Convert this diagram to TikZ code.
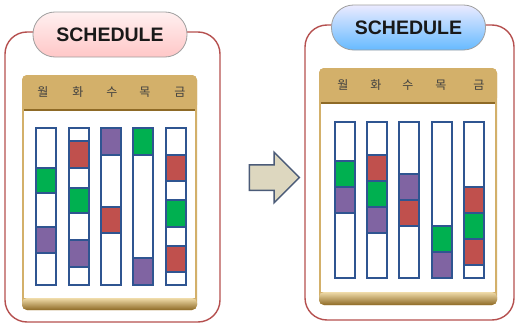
\documentclass[tikz,border=0pt]{standalone}
\usepackage{fontspec}
\setmainfont{Liberation Sans}
\newfontfamily\krfont{Noto Sans CJK KR}
\usepackage{tikz}
\usetikzlibrary{shapes.arrows}

\definecolor{panelred}{HTML}{B5504F}
\definecolor{slotblue}{HTML}{2F5591}
\definecolor{slotgreen}{HTML}{00B050}
\definecolor{slotred}{HTML}{C0504D}
\definecolor{slotpurple}{HTML}{8064A2}
\definecolor{goldlight}{HTML}{F0DCAA}
\definecolor{goldmid}{HTML}{D3B06A}
\definecolor{golddark}{HTML}{8E6A26}
\definecolor{arrowfill}{HTML}{DDD7BF}
\definecolor{arrowline}{HTML}{4B5B78}

% one board: x1, y1, x2, y2, header bottom, white bottom
\newcommand{\board}[6]{%
  \fill[goldmid,rounded corners=5pt] (#1,#2) rectangle (#3,#4);
  \shade[top color=goldmid,middle color=goldlight,bottom color=goldmid,rounded corners=5pt]
    (#1,#5) -- (#1,#2) -- (#3,#2) -- (#3,#5) -- cycle;
  \shade[top color=goldlight,bottom color=golddark,rounded corners=5pt]
    (#1,#6) -- (#1,#4) -- (#3,#4) -- (#3,#6) -- cycle;
  \fill[white] (#1+2,#5) rectangle (#3-2,#6);
  \draw[golddark,line width=1.2pt] (#1+2,#5) -- (#3-2,#5);
}
% one day column: left x, list of top/bottom/colour
\newcommand{\daybar}[2]{%
  \foreach \ya/\yb/\c in {#2}
    \draw[slot,fill=\c] (#1,\ya) rectangle (#1+20,\yb);
}

\begin{document}
\begin{tikzpicture}[x=1pt,y=-1pt,
  panel/.style={draw=panelred,line width=1.4pt,rounded corners=22pt},
  title/.style={draw=gray!75,line width=0.8pt,rounded corners=22pt,
    minimum width=154pt,minimum height=45pt,text=black!90,
    font=\fontsize{19.5}{21}\selectfont\bfseries},
  day/.style={text=black!75,font=\krfont\fontsize{12}{13}\selectfont},
  slot/.style={draw=slotblue,line width=1.4pt}]
  \useasboundingbox (0,0) rectangle (517,324);

  % panels
  \draw[panel] (5,32) rectangle (220,322);
  \draw[panel] (305,25) rectangle (514,320);

  % titles
  \node[title,top color=red!6,bottom color=red!22!white] (titleL) at (110,34.5) {SCHEDULE};
  \node[title,top color=blue!8,bottom color=blue!45!cyan!60!white] (titleR) at (408.5,27.5) {SCHEDULE};

  % boards
  \board{22}{75}{197}{310}{110}{298}
  \board{319}{68}{497}{305}{103}{292}

  % day labels
  \foreach \d/\x [count=\i] in {월/43,화/78,수/112,목/145,금/180}
    \node[day] (dayL\i) at (\x,92) {\d};
  \foreach \d/\x [count=\i] in {월/343,화/376,수/408,목/441,금/479}
    \node[day] (dayR\i) at (\x,85) {\d};

  % left schedule
  \daybar{36}{128/168/white,168/193/slotgreen,193/227/white,227/253/slotpurple,253/285/white}
  \daybar{69}{128/141/white,141/168/slotred,168/188/white,188/213/slotgreen,213/240/white,240/267/slotpurple,267/285/white}
  \daybar{101}{128/155/slotpurple,155/207/white,207/233/slotred,233/285/white}
  \daybar{133}{128/155/slotgreen,155/258/white,258/285/slotpurple}
  \daybar{166}{128/155/white,155/181/slotred,181/200/white,200/227/slotgreen,227/246/white,246/272/slotred,272/285/white}

  % right schedule
  \daybar{335}{122/161/white,161/187/slotgreen,187/213/slotpurple,213/278/white}
  \daybar{367}{122/155/white,155/181/slotred,181/207/slotgreen,207/233/slotpurple,233/278/white}
  \daybar{399}{122/174/white,174/200/slotpurple,200/226/slotred,226/278/white}
  \daybar{432}{122/226/white,226/252/slotgreen,252/278/slotpurple}
  \daybar{464}{122/187/white,187/213/slotred,213/239/slotgreen,239/265/slotred,265/278/white}

  % arrow
  \node[single arrow,draw=arrowline,fill=arrowfill,line width=1.5pt,
    minimum height=50pt,inner xsep=0pt,inner ysep=12pt,
    single arrow head extend=12.5pt] (shift) at (268,177.5) {};
\end{tikzpicture}
\end{document}
